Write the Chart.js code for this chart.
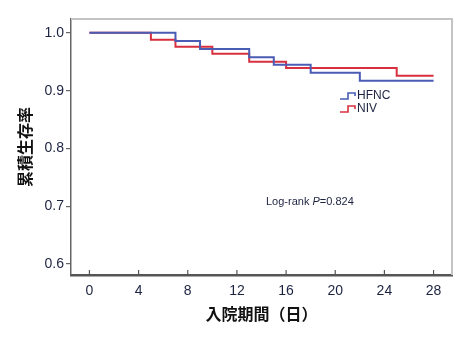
<html>
    <head>
        <meta charset='utf-8'>
        <script src='https://cdn.jsdelivr.net/npm/chart.js'></script>
    </head>
    <style>
        body { margin: 0; background: #fff; }
        #wrap { width: 467px; height: 353px; }
    </style>
    <body>
        <div id='wrap'><canvas id='km'></canvas></div>
        <script>
            // survival curves (Kaplan-Meier), day -> cumulative survival
            var hfncDays = [0, 7, 9, 13, 15, 18, 22, 28];
            var hfncSurv = [1.0, 0.986, 0.972, 0.958, 0.945, 0.931, 0.917, 0.917];
            var nivDays = [0, 5, 7, 10, 13, 16, 25, 28];
            var nivSurv = [1.0, 0.988, 0.976, 0.964, 0.950, 0.939, 0.926, 0.926];
            var seriesNames = ['HFNC', 'NIV'];
            var xTicks = [0, 4, 8, 12, 16, 20, 24, 28];
            var yTicks = [0.6, 0.7, 0.8, 0.9, 1.0];
            var xTitle = '入院期間（日）';
            var yTitle = '累積生存率';
            var statText = ['Log-rank ', 'P', '=0.824'];

            var tickFont = {family: "'Liberation Sans', Arial, sans-serif", size: 14};
            var titleFont = {family: "'Noto Sans CJK JP', sans-serif", size: 16, weight: 'bold'};

            function toPoints(xs, ys) {
                return xs.map(function(x, i) { return {x: x, y: ys[i]}; });
            }

            // box edges, inward x ticks, legend and stat label
            var extras = {
                id: 'extras',
                afterDraw: function(chart) {
                    var ctx = chart.ctx, a = chart.chartArea;
                    ctx.save();
                    ctx.strokeStyle = '#c4c4c4';
                    ctx.lineWidth = 2;
                    ctx.beginPath();
                    ctx.moveTo(a.left, a.top);
                    ctx.lineTo(a.right, a.top);
                    ctx.lineTo(a.right, a.bottom);
                    ctx.stroke();

                    var xs = chart.scales.x;
                    ctx.strokeStyle = '#555';
                    ctx.lineWidth = 1.2;
                    xs.ticks.forEach(function(t) {
                        var px = xs.getPixelForValue(t.value);
                        ctx.beginPath();
                        ctx.moveTo(px, a.bottom);
                        ctx.lineTo(px, a.bottom - 5);
                        ctx.stroke();
                    });

                    // legend with step icons
                    var lx = 340, ly = 96;
                    chart.data.datasets.forEach(function(ds, i) {
                        var y = ly + i * 13;
                        ctx.strokeStyle = ds.borderColor;
                        ctx.lineWidth = 1.6;
                        ctx.beginPath();
                        ctx.moveTo(lx, y + 3);
                        ctx.lineTo(lx + 8, y + 3);
                        ctx.lineTo(lx + 8, y - 3);
                        ctx.lineTo(lx + 15, y - 3);
                        ctx.lineTo(lx + 15, y);
                        ctx.stroke();
                        ctx.fillStyle = '#1c2340';
                        ctx.font = "12px 'Liberation Sans', Arial, sans-serif";
                        ctx.textBaseline = 'middle';
                        ctx.textAlign = 'left';
                        ctx.fillText(ds.label, lx + 17, y);
                    });

                    // stat label
                    ctx.fillStyle = '#1c2340';
                    ctx.textBaseline = 'middle';
                    ctx.textAlign = 'left';
                    var sx = 266, sy = 202;
                    ctx.font = "11px 'Liberation Sans', Arial, sans-serif";
                    ctx.fillText(statText[0], sx, sy);
                    sx += ctx.measureText(statText[0]).width;
                    ctx.font = "italic 11px 'Liberation Sans', Arial, sans-serif";
                    ctx.fillText(statText[1], sx, sy);
                    sx += ctx.measureText(statText[1]).width;
                    ctx.font = "11px 'Liberation Sans', Arial, sans-serif";
                    ctx.fillText(statText[2], sx, sy);
                    ctx.restore();
                }
            };

            new Chart('km', {
                type: 'line',
                data: {
                    datasets: [{
                        label: seriesNames[0],
                        data: toPoints(hfncDays, hfncSurv),
                        borderColor: '#4a5cb4',
                        borderWidth: 2,
                        stepped: true,
                        pointRadius: 0,
                        fill: false
                    }, {
                        label: seriesNames[1],
                        data: toPoints(nivDays, nivSurv),
                        borderColor: '#d8303f',
                        borderWidth: 2,
                        stepped: true,
                        pointRadius: 0,
                        fill: false
                    }]
                },
                options: {
                    responsive: true,
                    maintainAspectRatio: false,
                    animation: false,
                    layout: {padding: {top: 19, right: 15, left: 0, bottom: 0}},
                    plugins: {legend: {display: false}, tooltip: {enabled: false}},
                    scales: {
                        x: {
                            type: 'linear',
                            min: -1.5,
                            max: 29.5,
                            afterBuildTicks: function(s) { s.ticks = xTicks.map(function(v) { return {value: v}; }); },
                            afterFit: function(s) { s.height = 78; },
                            ticks: {color: '#1c2340', font: tickFont, padding: 8, maxRotation: 0},
                            grid: {drawOnChartArea: false, drawTicks: false},
                            border: {color: '#555', width: 2.5},
                            title: {display: true, text: xTitle, color: '#111', font: titleFont, padding: {top: 0, bottom: 29}}
                        },
                        y: {
                            min: 0.581,
                            max: 1.024,
                            afterBuildTicks: function(s) { s.ticks = yTicks.map(function(v) { return {value: v}; }); },
                            afterFit: function(s) { s.width = 71; },
                            ticks: {color: '#1c2340', font: tickFont, padding: 2, callback: function(v) { return v.toFixed(1); }},
                            grid: {drawOnChartArea: false, tickLength: 5, color: '#666', lineWidth: 1.2},
                            border: {color: '#666', width: 1.5},
                            title: {display: true, text: yTitle, color: '#111', font: titleFont, padding: {top: 15, bottom: 0}}
                        }
                    }
                },
                plugins: [extras]
            });
        </script>
    </body>
</html>
